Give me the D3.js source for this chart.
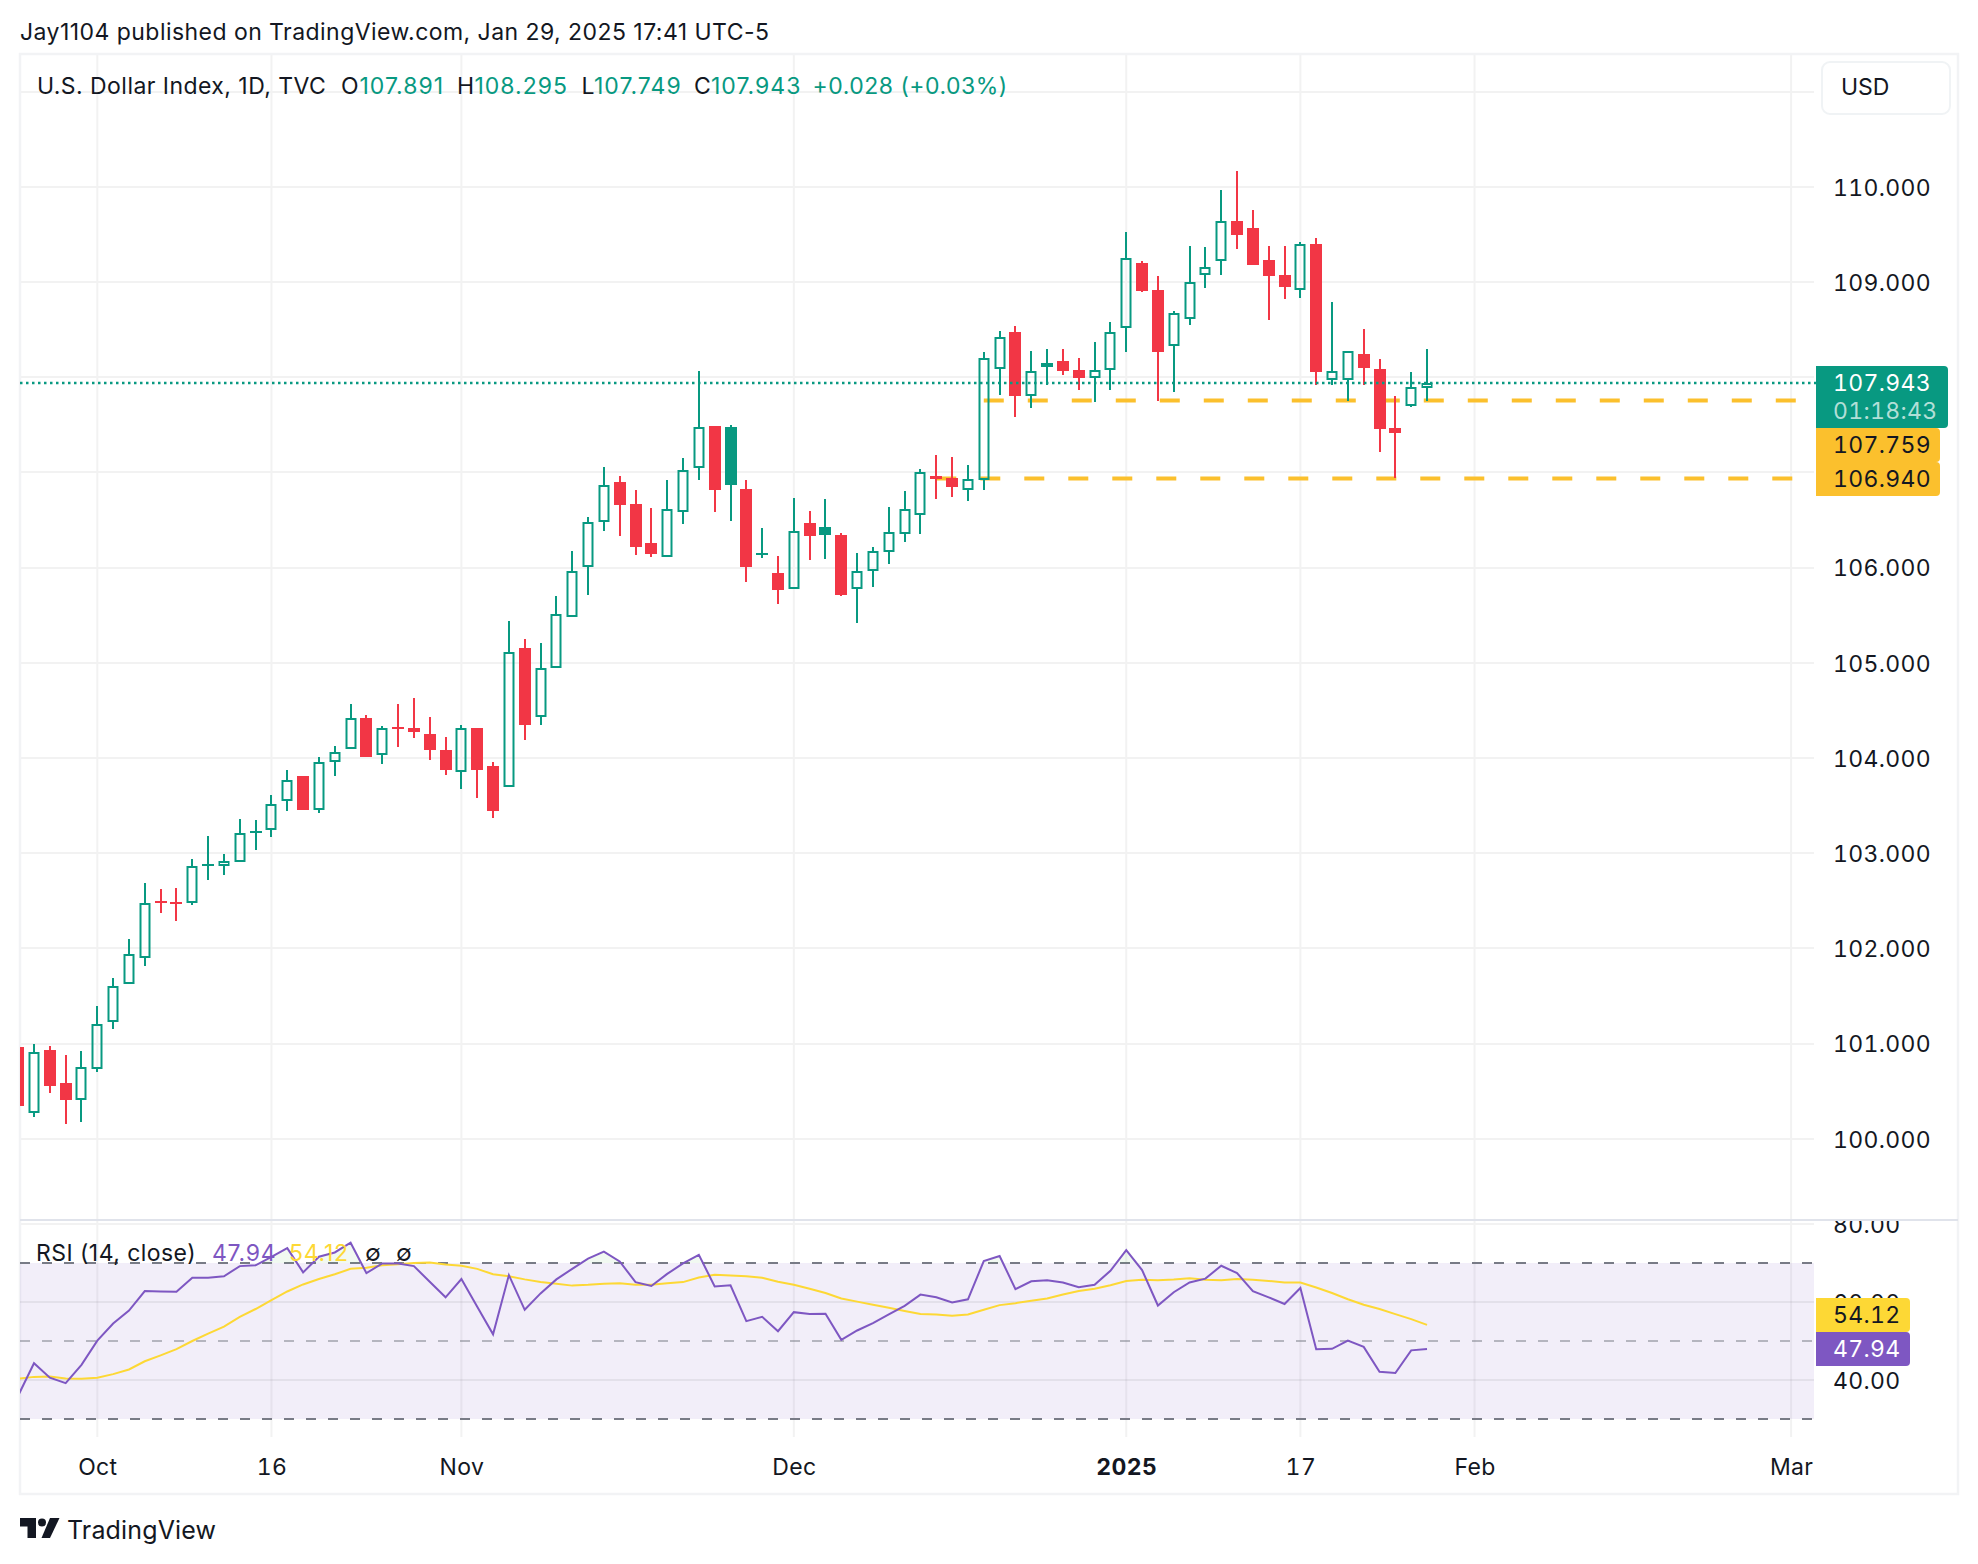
<!DOCTYPE html>
<html>
<head>
<meta charset="utf-8">
<script src="https://cdn.jsdelivr.net/npm/d3@7"></script>
<style>
html,body{margin:0;padding:0;background:#fff;}
svg{display:block;}
text{font-family:Inter,"Noto Sans",sans-serif;fill:#131722;}
</style>
</head>
<body>
<svg width="1978" height="1564"></svg>
<script>
// day index runs from the clipped candle at the left edge (-1) to Jan 29 (88)
var firstDay = -1;
var opens = [100.96,100.27,100.93,100.585,100.41,100.735,101.23,101.63,101.90,102.50,102.49,102.475,102.865,102.865,102.91,103.215,103.24,103.55,103.81,103.455,103.96,104.09,104.42,104.035,104.325,104.315,104.25,104.085,103.855,104.315,103.915,103.69,105.155,104.435,104.94,105.485,106.01,106.48,106.90,106.67,106.26,106.115,106.585,107.05,107.485,107.475,106.825,106.14,105.94,105.77,106.47,106.425,106.34,105.78,105.96,106.165,106.355,106.555,106.965,106.94,106.81,106.92,108.09,108.475,107.80,108.15,108.17,108.075,107.99,108.08,108.52,109.20,108.915,108.33,108.615,109.075,109.225,109.64,109.565,109.23,109.07,108.92,109.40,107.975,107.975,108.245,108.085,107.465,107.70,107.891];
var highs = [100.98,100.995,100.97,100.88,100.92,101.395,101.69,102.10,102.685,102.62,102.635,102.94,103.18,102.99,103.36,103.35,103.61,103.875,103.81,104.01,104.125,104.565,104.45,104.335,104.565,104.63,104.43,104.22,104.345,104.315,103.955,105.44,105.25,105.205,105.70,106.175,106.53,107.055,106.96,106.815,106.625,106.92,107.15,108.065,107.485,107.50,106.92,106.415,106.12,106.73,106.595,106.72,106.365,106.15,106.215,106.635,106.805,107.035,107.18,107.16,107.08,108.265,108.485,108.54,108.275,108.295,108.295,108.2,108.37,108.58,109.525,109.22,109.06,108.695,109.38,109.37,109.965,110.165,109.755,109.38,109.38,109.42,109.46,108.79,108.27,108.505,108.19,107.80,108.055,108.295];
var lows = [100.30,100.23,100.48,100.155,100.175,100.70,101.15,101.63,101.815,102.37,102.29,102.455,102.72,102.77,102.91,103.035,103.17,103.44,103.455,103.42,103.81,104.09,104.01,103.935,104.115,104.21,103.98,103.82,103.675,103.58,103.37,103.69,104.19,104.345,104.94,105.485,105.71,106.385,106.33,106.13,106.11,106.115,106.455,106.92,106.585,106.49,105.85,106.10,105.62,105.77,106.08,106.09,105.70,105.42,105.795,106.04,106.27,106.355,106.72,106.74,106.70,106.815,107.81,107.58,107.675,107.92,108.02,107.865,107.74,107.865,108.265,108.895,107.75,107.845,108.55,108.935,109.075,109.345,109.18,108.60,108.82,108.83,107.92,107.92,107.75,107.92,107.215,106.94,107.685,107.749];
var closes = [100.34,100.915,100.55,100.41,100.75,101.20,101.60,101.94,102.48,102.475,102.47,102.87,102.885,102.915,103.21,103.235,103.52,103.765,103.455,103.955,104.06,104.415,104.01,104.31,104.305,104.27,104.085,103.875,104.31,103.875,103.445,105.11,104.345,104.94,105.51,105.96,106.475,106.865,106.66,106.215,106.145,106.62,107.02,107.48,106.815,106.87,106.005,106.15,105.765,106.38,106.335,106.34,105.71,105.96,106.17,106.37,106.61,107.00,106.93,106.845,106.93,108.20,108.42,107.80,108.07,108.11,108.065,107.99,108.075,108.47,109.25,108.905,108.265,108.67,109.00,109.155,109.64,109.495,109.18,109.06,108.95,109.395,108.055,108.07,108.27,108.095,107.455,107.415,107.90,107.943];

var rsi = [36,44.3,40.6,39.2,43.9,50.1,54.5,57.8,62.8,62.7,62.6,66.2,66.2,66.6,69.2,69.4,71.6,73.8,67.6,71.6,72.7,75.2,67.4,69.9,69.9,69.2,65.2,61.2,65.9,58.8,51.7,66.9,58.0,62.2,65.8,68.5,71.1,72.9,70.4,65.1,64.1,67.2,69.9,72.1,64.0,64.3,55.1,56.2,52.5,57.4,56.9,57.0,50.3,52.7,54.6,56.8,59.0,61.9,61.2,59.9,60.7,70.5,71.8,63.3,65.3,65.6,65.0,63.8,64.4,68.0,73.3,68.2,59.1,62.5,65.0,66.0,69.3,67.4,62.8,61.2,59.5,63.6,47.9,48.0,50.1,48.5,42.1,41.8,47.6,47.94];
var rsiMa = [40.3,40.8,40.9,40.4,40.3,40.6,41.5,42.7,44.8,46.3,47.9,50,51.9,53.7,56.2,58.2,60.5,62.7,64.5,65.9,67.1,68.5,68.8,69.4,69.7,70,70.1,69.6,69.3,68.5,67.1,66.6,65.8,65.1,64.7,64.2,64.4,64.7,64.8,64.4,64.4,64.8,65.1,66.3,67.0,66.8,66.6,66.2,65.2,64.4,63.4,62.3,60.9,60.1,59.3,58.5,57.7,56.9,56.8,56.5,56.8,58.0,59.2,59.7,60.3,60.9,61.9,62.8,63.4,64.3,65.4,65.7,65.6,65.8,66.1,65.7,65.6,65.9,65.7,65.4,65,65,63.7,62.3,60.7,59.3,58.2,56.9,55.6,54.12];

var priceGrid = [100,101,102,103,104,105,106,107,108,109,110,111];
var priceLabels = [100,101,102,103,104,105,106,109,110];   // 107 and 108 sit under the price tags
var rsiTicks = [80,60,40];
var timeTicks = [4,15,27,48,69,80,91,111];
var timeLabels = ["Oct","16","Nov","Dec","2025","17","Feb","Mar"];
var levels = [{value:107.759,from:60},{value:106.940,from:57}];

var green = "#089981", red = "#f23645", amber = "#fbc02d",
    maYellow = "#fdd835", purple = "#7e57c2", gridColor = "#f2f2f2";

var svg = d3.select("svg");
var paneLeft = 20, paneRight = 1814, frameTop = 54, frameRight = 1958, frameBottom = 1494,
    sepY = 1220, gridBottom = 1437;

var x = d3.scaleLinear().domain([0,111]).range([34,1791.1]);
var y = d3.scaleLinear().domain([100,110]).range([1138.7,186.8]);
var yRsi = d3.scaleLinear().domain([30,80]).range([1419,1224]);

var days = d3.range(opens.length).map(function(i){
    return {day:firstDay+i, o:opens[i], h:highs[i], l:lows[i], c:closes[i], prev:i>0?closes[i-1]:opens[i]};
});

var defs = svg.append("defs");
defs.append("clipPath").attr("id","pane").append("rect")
    .attr("x",paneLeft).attr("y",frameTop).attr("width",paneRight-paneLeft).attr("height",gridBottom-frameTop);
defs.append("clipPath").attr("id","over70").append("rect")
    .attr("x",paneLeft).attr("y",sepY).attr("width",paneRight-paneLeft).attr("height",yRsi(70)-sepY);
defs.append("clipPath").attr("id","rsiScale").append("rect")
    .attr("x",paneRight).attr("y",sepY+1).attr("width",frameRight-paneRight).attr("height",frameBottom-sepY);

// grid
var grid = svg.append("g").attr("stroke",gridColor).attr("stroke-width",2);
grid.selectAll("line.h").data(priceGrid).enter().append("line")
    .attr("x1",paneLeft).attr("x2",paneRight)
    .attr("y1",function(d){return Math.round(y(d));}).attr("y2",function(d){return Math.round(y(d));});
grid.append("line").attr("x1",paneLeft).attr("x2",paneRight).attr("y1",yRsi(80)).attr("y2",yRsi(80));
grid.selectAll("line.v").data(timeTicks).enter().append("line")
    .attr("x1",function(d){return x(d);}).attr("x2",function(d){return x(d);})
    .attr("y1",frameTop).attr("y2",gridBottom);

// frame
svg.append("path")
    .attr("d","M"+paneLeft+","+frameTop+"H"+frameRight+"V"+frameBottom+"H"+paneLeft+"Z")
    .attr("fill","none").attr("stroke","#f2f3f5").attr("stroke-width",2.5);
svg.append("line").attr("x1",paneLeft).attr("x2",frameRight).attr("y1",sepY).attr("y2",sepY)
    .attr("stroke","#e0e3eb").attr("stroke-width",2);

// rsi band
svg.append("rect").attr("x",paneLeft).attr("width",paneRight-paneLeft)
    .attr("y",yRsi(70)).attr("height",yRsi(30)-yRsi(70))
    .attr("fill",purple).attr("fill-opacity",0.1);
grid = svg.append("g").attr("stroke","#787b86").attr("stroke-opacity",0.12).attr("stroke-width",2);
grid.selectAll("line").data([60,40]).enter().append("line")
    .attr("x1",paneLeft).attr("x2",paneRight)
    .attr("y1",function(d){return yRsi(d);}).attr("y2",function(d){return yRsi(d);});
svg.selectAll("line.band").data([{v:70,o:1},{v:50,o:0.5},{v:30,o:1}]).enter().append("line")
    .attr("x1",paneLeft).attr("x2",paneRight)
    .attr("y1",function(d){return yRsi(d.v);}).attr("y2",function(d){return yRsi(d.v);})
    .attr("stroke","#787b86").attr("stroke-opacity",function(d){return d.o;})
    .attr("stroke-width",2).attr("stroke-dasharray","10,12");

// levels drawn under the candles
svg.append("g").attr("clip-path","url(#pane)").selectAll("line").data(levels).enter().append("line")
    .attr("x1",function(d){return x(d.from);}).attr("x2",paneRight)
    .attr("y1",function(d){return y(d.value)+0.5;}).attr("y2",function(d){return y(d.value)+0.5;})
    .attr("stroke",amber).attr("stroke-width",4).attr("stroke-dasharray","20,24");

// candles: wicks stop at the body so hollow ones stay see-through
var candle = svg.append("g").attr("clip-path","url(#pane)").selectAll("g").data(days).enter().append("g");
function colorOf(d){ return d.c>=d.prev && !(d.day==firstDay) ? green : red; }
candle.append("path")
    .attr("d",function(d){
        var cx = Math.round(x(d.day));
        return "M"+cx+","+Math.round(y(d.h))+"V"+Math.round(y(Math.max(d.o,d.c)))
            +"M"+cx+","+Math.round(y(Math.min(d.o,d.c)))+"V"+Math.round(y(d.l));
    })
    .attr("fill","none").attr("stroke",colorOf).attr("stroke-width",2);
candle.append("rect").each(function(d){
    var top = Math.round(y(Math.max(d.o,d.c))), bot = Math.round(y(Math.min(d.o,d.c))), cx = Math.round(x(d.day));
    var el = d3.select(this);
    if(d.c>d.o && bot-top>=4){
        el.attr("x",cx-4.5).attr("width",9).attr("y",top+1).attr("height",bot-top-2)
          .attr("fill","none").attr("stroke",colorOf(d)).attr("stroke-width",2);
    }else{
        el.attr("x",cx-6).attr("width",12).attr("y",top).attr("height",Math.max(bot-top,2))
          .attr("fill",colorOf(d));
    }
});

// rsi lines
svg.append("g").attr("clip-path","url(#over70)").append("path").datum(rsi)
    .attr("d",d3.area().x(function(d,i){return x(firstDay+i);}).y0(yRsi(70)).y1(function(d){return yRsi(d);}))
    .attr("fill","#4caf50").attr("fill-opacity",0.08);
var lineG = svg.append("g").attr("clip-path","url(#pane)").attr("fill","none");
lineG.append("path").datum(rsiMa)
    .attr("d",d3.line().x(function(d,i){return x(firstDay+i);}).y(function(d){return yRsi(d);}))
    .attr("stroke",maYellow).attr("stroke-width",2);
lineG.append("path").datum(rsi)
    .attr("d",d3.line().x(function(d,i){return x(firstDay+i);}).y(function(d){return yRsi(d);}))
    .attr("stroke",purple).attr("stroke-width",2);

// last price line
var lastY = Math.round(y(closes[closes.length-1]));
svg.append("line").attr("x1",paneLeft).attr("x2",paneRight+2).attr("y1",lastY).attr("y2",lastY)
    .attr("stroke",green).attr("stroke-width",2.4).attr("stroke-dasharray","2.5,3.5");

// axes
var axisFont = 23, axisSpacing = "0.35px";
var priceAxis = svg.append("g").attr("transform","translate(1833,1)")
    .call(d3.axisRight(y).tickValues(priceLabels).tickSize(0).tickPadding(0).tickFormat(d3.format(".3f")));
// 80.00 is cut by the pane separator, so the clip sits on an outer group
var rsiAxis = svg.append("g").attr("clip-path","url(#rsiScale)").append("g").attr("transform","translate(1833,1)")
    .call(d3.axisRight(yRsi).tickValues(rsiTicks).tickSize(0).tickPadding(0).tickFormat(d3.format(".2f")));
var timeAxis = svg.append("g").attr("transform","translate(0,1459)")
    .call(d3.axisBottom(x).tickValues(timeTicks).tickSize(0).tickPadding(0)
        .tickFormat(function(d,i){return timeLabels[i];}));
[priceAxis,rsiAxis,timeAxis].forEach(function(a){
    a.select(".domain").remove();
    a.selectAll("text").style("font-family","Inter").style("font-size",axisFont+"px").style("fill","#131722")
        .style("letter-spacing",axisSpacing).style("font-variant-numeric","tabular-nums");
});
timeAxis.selectAll("text").style("font-weight",function(d){return d==69?"700":"400";});

// axis labels
function tag(x0,x1,y0,y1,fill){
    var r = 4;
    svg.append("path")
        .attr("d","M"+x0+","+y0+"H"+(x1-r)+"Q"+x1+","+y0+" "+x1+","+(y0+r)+"V"+(y1-r)+"Q"+x1+","+y1+" "+(x1-r)+","+y1+"H"+x0+"Z")
        .attr("fill",fill);
}
function tagText(s,xp,yp,fill,op){
    svg.append("text").attr("x",xp).attr("y",yp).attr("dy","0.35em").text(s)
        .style("font-size",axisFont+"px").style("fill",fill).style("fill-opacity",op||1)
        .style("letter-spacing",axisSpacing).style("font-variant-numeric","tabular-nums");
}
tag(1816,1948,366,428,green);
tagText("107.943",1833,383,"#fff");
tagText("01:18:43",1833,411,"#fff",0.7);
tag(1816,1940,428,462,amber);
tagText("107.759",1833,445,"#131722");
tag(1816,1940,462,496,amber);
tagText("106.940",1833,479,"#131722");
tag(1816,1910,1298,1332,maYellow);
tagText("54.12",1833,1315,"#131722");
tag(1816,1910,1332,1366,purple);
tagText("47.94",1833,1349,"#fff");

// USD box
svg.append("rect").attr("x",1822).attr("y",62).attr("width",128).attr("height",52).attr("rx",8)
    .attr("fill","#fff").attr("stroke","#f0f3f5").attr("stroke-width",2);
svg.append("text").attr("x",1841).attr("y",87).attr("dy","0.35em").text("USD").style("font-size","23px");

// legends
function legend(parts,yp){
    parts.forEach(function(p){
        svg.append("text").attr("x",p[0]).attr("y",yp).attr("dy","0.35em").text(p[1])
            .style("font-size","23px").style("fill",p[2]||"#131722").style("letter-spacing",(p[3]||0.45)+"px");
    });
}
legend([[20,"Jay1104 published on TradingView.com, Jan 29, 2025 17:41 UTC-5"]],32);
legend([[37,"U.S. Dollar Index, 1D, TVC"],[341,"O"],[359.5,"107.891",green,1],[457,"H"],[474.5,"108.295",green,1],
    [581.5,"L"],[594,"107.749",green,1],[694,"C"],[711,"107.943",green,1],[812.5,"+0.028 (+0.03%)",green,0.5]],86);
legend([[36,"RSI (14, close)"],[212,"47.94",purple,0.75],[289,"54.12",maYellow,0.75],[365,"∅"],[396,"∅"]],1253);

// logo
var logo = svg.append("g").attr("fill","#131722");
logo.append("path").attr("d","M20,1518H36V1538H27.5V1526.5H20Z");
logo.append("circle").attr("cx",42).attr("cy",1522.5).attr("r",4);
logo.append("path").attr("d","M50,1518H59.5L50,1538H41.5Z");
svg.append("text").attr("x",67).attr("y",1530).attr("dy","0.35em").text("TradingView")
    .style("font-size","25px").style("font-weight","400").style("letter-spacing","0.15px");
</script>
</body>
</html>
